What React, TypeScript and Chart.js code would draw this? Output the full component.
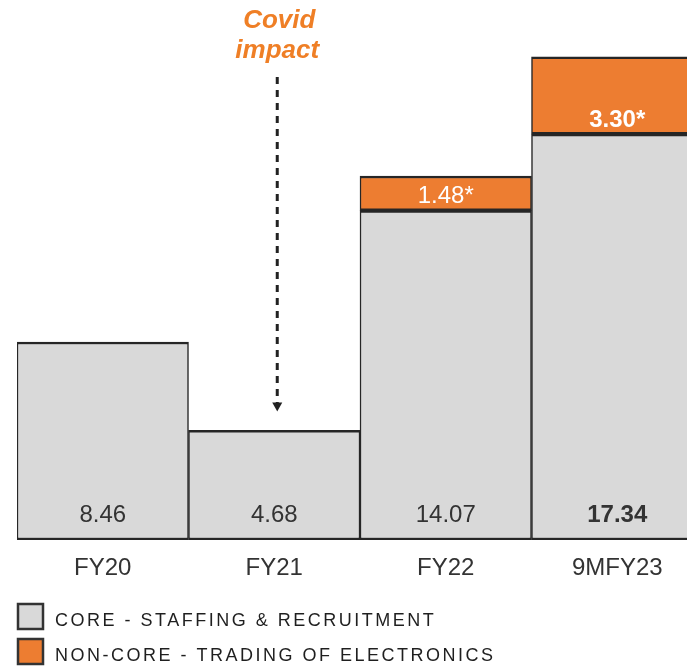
import React, { useEffect, useRef } from "react";
import { Chart, registerables } from "chart.js";

Chart.register(...registerables);

// Revenue split by financial year
const categories = ["FY20", "FY21", "FY22", "9MFY23"];
const coreValues = [8.46, 4.68, 14.07, 17.34];
const nonCoreValues: (number | null)[] = [null, null, 1.48, 3.3];
const coreLabels = ["8.46", "4.68", "14.07", "17.34"];
const nonCoreLabels = ["", "", "1.48*", "3.30*"];
const legendLabels = [
  "CORE - STAFFING & RECRUITMENT",
  "NON-CORE - TRADING OF ELECTRONICS",
];
const annotationLines = ["Covid", "impact"];
const annotationCategory = "FY21";

const GREY = "#d9d9d9";
const ORANGE = "#ed7d31";
const BORDER = "#262626";
const TEXT = "#333333";
const FONT = "Arial, 'Liberation Sans', Helvetica, sans-serif";

const labelPlugin = {
  id: "barLabels",
  afterDatasetsDraw(chart: any) {
    const ctx = chart.ctx;
    const core = chart.getDatasetMeta(0);
    const nonCore = chart.getDatasetMeta(1);
    const last = categories.length - 1;
    ctx.save();
    ctx.textAlign = "center";
    ctx.textBaseline = "middle";
    core.data.forEach((bar: any, i: number) => {
      const { x, base } = bar.getProps(["x", "base"], true);
      ctx.font = `${i === last ? "bold " : ""}24px ${FONT}`;
      ctx.fillStyle = TEXT;
      ctx.fillText(coreLabels[i], x, base - 25);
    });
    nonCore.data.forEach((bar: any, i: number) => {
      if (nonCoreValues[i] == null) return;
      const { x, base } = bar.getProps(["x", "base"], true);
      ctx.font = `${i === last ? "bold " : ""}24px ${FONT}`;
      ctx.fillStyle = "#ffffff";
      ctx.fillText(nonCoreLabels[i], x, base - 14);
    });
    ctx.restore();
  },
};

const annotationPlugin = {
  id: "covidArrow",
  afterDraw(chart: any) {
    const ctx = chart.ctx;
    const idx = categories.indexOf(annotationCategory);
    const bar: any = chart.getDatasetMeta(0).data[idx];
    const { x: bx, y: by } = bar.getProps(["x", "y"], true);
    const x = bx + 3;
    ctx.save();
    ctx.fillStyle = "#ef7f26";
    ctx.font = `italic bold 26px ${FONT}`;
    ctx.textAlign = "center";
    ctx.textBaseline = "alphabetic";
    ctx.fillText(annotationLines[0], x + 2, 28);
    ctx.fillText(annotationLines[1], x, 58);

    // dashed pointer down to the bar
    const endY = by - 19;
    ctx.strokeStyle = "#222222";
    ctx.lineWidth = 3;
    ctx.setLineDash([7, 6]);
    ctx.beginPath();
    ctx.moveTo(x, 77);
    ctx.lineTo(x, endY - 8);
    ctx.stroke();
    ctx.setLineDash([]);
    ctx.fillStyle = "#222222";
    ctx.beginPath();
    ctx.moveTo(x - 5, endY - 9);
    ctx.lineTo(x + 5, endY - 9);
    ctx.lineTo(x, endY);
    ctx.closePath();
    ctx.fill();
    ctx.restore();
  },
};

const legendPlugin = {
  id: "stackLegend",
  afterDraw(chart: any) {
    const ctx = chart.ctx;
    const fills = [GREY, ORANGE];
    const tops = [603, 638];
    ctx.save();
    legendLabels.forEach((label, i) => {
      ctx.fillStyle = fills[i];
      ctx.fillRect(18, tops[i] + 1, 25, 25);
      ctx.strokeStyle = "#333333";
      ctx.lineWidth = 2.5;
      ctx.strokeRect(18, tops[i] + 1, 25, 25);
      ctx.fillStyle = "#1f1f1f";
      ctx.font = `18px ${FONT}`;
      ctx.textAlign = "left";
      ctx.textBaseline = "alphabetic";
      (ctx as any).letterSpacing = "2.5px";
      ctx.fillText(label, 55, tops[i] + 23);
    });
    ctx.restore();
  },
};

export default function App() {
  const canvasRef = useRef<HTMLCanvasElement | null>(null);

  useEffect(() => {
    const canvas = canvasRef.current;
    if (!canvas) return;
    const border = { top: 2.5, bottom: 2.5, left: 1.5, right: 1.5 };
    const chart = new Chart(canvas, {
      type: "bar",
      data: {
        labels: categories,
        datasets: [
          {
            label: legendLabels[0],
            data: coreValues,
            backgroundColor: GREY,
            borderColor: BORDER,
            borderWidth: border,
            borderSkipped: false,
            barPercentage: 1,
            categoryPercentage: 1,
          },
          {
            label: legendLabels[1],
            data: nonCoreValues,
            backgroundColor: ORANGE,
            borderColor: BORDER,
            borderWidth: border,
            borderSkipped: false,
            barPercentage: 1,
            categoryPercentage: 1,
          },
        ],
      },
      options: {
        responsive: false,
        animation: false,
        devicePixelRatio: 1,
        layout: { padding: { left: 17, right: 7, top: 25, bottom: 0 } },
        plugins: {
          legend: { display: false },
          tooltip: { enabled: false },
        },
        scales: {
          x: {
            stacked: true,
            grid: { display: false, drawTicks: false },
            border: { display: false },
            ticks: {
              color: TEXT,
              font: { size: 24, family: FONT },
              padding: 14,
              maxRotation: 0,
            },
            afterFit: (scale: any) => {
              scale.height = 127;
            },
          },
          y: {
            stacked: true,
            display: false,
            min: 0,
            max: 22,
          },
        },
      },
      plugins: [labelPlugin, annotationPlugin, legendPlugin],
    });
    return () => chart.destroy();
  }, []);

  return (
    <div
      style={{
        position: "fixed",
        left: 0,
        top: 0,
        width: 687,
        height: 667,
        overflow: "hidden",
        background: "#ffffff",
      }}
    >
      <canvas
        ref={canvasRef}
        width={710}
        height={667}
        style={{ position: "absolute", left: 0, top: 0, width: 710, height: 667 }}
      />
    </div>
  );
}
